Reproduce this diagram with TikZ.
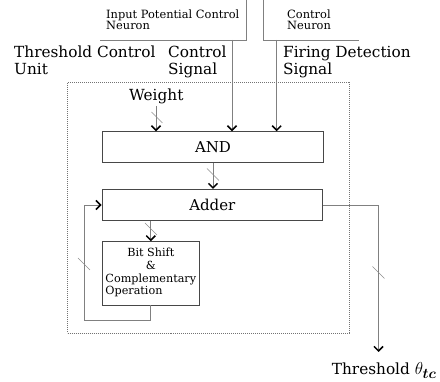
\documentclass[tikz,border=0pt]{standalone}
\usepackage{amsmath}
\usepackage{fontspec}
\setmainfont{DejaVu Serif}
\usetikzlibrary{arrows.meta,calc}
\begin{document}
\begin{tikzpicture}[x=1pt,y=-1pt,
  wire/.style={draw=black!50, line width=0.8pt},
  arr/.style={wire, -{Straight Barb[length=4.5pt,width=9pt,line width=1.5pt,color=black]}},
  box/.style={draw=black!72, line width=0.8pt, fill=white, inner sep=0pt},
  tick/.style={draw=black!45, line width=0.5pt},
  bigtxt/.style={font=\fontsize{15.3}{17}\selectfont, inner sep=0pt, align=left},
  smalltxt/.style={font=\fontsize{11.4}{11.6}\selectfont, inner sep=0pt, align=left},
  frame/.style={draw=black!55, line width=0.6pt, dash pattern=on 0.8pt off 1.2pt, inner sep=0pt}
]
\useasboundingbox (0,0) rectangle (440,382);

% dotted unit frame
\node[frame, minimum width=282pt, minimum height=251pt] (unit) at (208.5,207.5) {};

% boxes
\node[box, minimum width=220.6pt, minimum height=31pt, font=\fontsize{15}{17}\selectfont] (and) at (213,147.2) {AND};
\node[box, minimum width=220.7pt, minimum height=31.4pt, font=\fontsize{15}{17}\selectfont] (adder) at (212.3,205) {Adder};
\node[box, minimum width=97pt, minimum height=63.3pt, font=\fontsize{11.2}{12.6}\selectfont] (bit) at (150.8,273.3)
  {\begin{tabular}{@{}l@{}}\multicolumn{1}{@{}c@{}}{Bit Shift}\\ \multicolumn{1}{@{}c@{}}{\&}\\ Complementary\\ Operation\end{tabular}};

% labels (base anchor = baseline of last line)
\node[smalltxt, anchor=base west] (ipc) at (106,29.8) {Input Potential Control\\Neuron};
\node[smalltxt, anchor=base west] (cn) at (287,29.8) {Control\\Neuron};
\node[bigtxt, anchor=base west] (tcu) at (14,75) {Threshold Control\\Unit};
\node[bigtxt, anchor=base west] (cs) at (168,75) {Control\\Signal};
\node[bigtxt, anchor=base west] (fds) at (283,75) {Firing Detection\\Signal};
\node[bigtxt, anchor=base west] (weight) at (129,101) {Weight};
\node[bigtxt, anchor=base west] (thr) at (331.7,375) {Threshold {\fontsize{19}{19}\selectfont$\theta_{\boldsymbol{tc}}$}};

% neuron brackets
\coordinate (ipcL) at (100,40);
\coordinate (ipcC) at (246.7,40);
\coordinate (ipcT) at (246.7,0);
\coordinate (cnT) at (263,0);
\coordinate (cnC) at (263,40);
\coordinate (cnR) at (359,40);
\draw[wire] (ipcL) -- (ipcC) -- (ipcT);
\draw[wire] (cnT) -- (cnC) -- (cnR);

% input arrows
\coordinate (csS) at (232,40);
\coordinate (fdS) at (276.7,40);
\coordinate (wS) at (156,106);
\draw[arr] (csS) -- (csS |- and.north);
\draw[arr] (fdS) -- (fdS |- and.north);
\draw[arr] (wS) -- (wS |- and.north);
\coordinate (t1) at (157,117.5);
\draw[tick] ($(t1)+(-5.5,-5.5)$) -- ++(11,11);

% AND -> Adder
\draw[arr] (and.south -| 213,0) -- (adder.north -| 213,0);
\coordinate (t2) at (213,174.5);
\draw[tick] ($(t2)+(-6,-6)$) -- ++(12,12);

% Adder -> Bit shift
\draw[arr] (bit.north |- adder.south) -- (bit.north);
\coordinate (t3) at (151,229);
\draw[tick] ($(t3)+(-6,-6)$) -- ++(12,12);

% feedback
\coordinate (fbB) at (150.8,320);
\coordinate (fbL) at (84,320);
\draw[arr] (bit.south) -- (fbB) -- (fbL) -- (fbL |- adder.west) -- (adder.west);
\coordinate (t4) at (84,264);
\draw[tick] ($(t4)+(-6,-6)$) -- ++(12,12);

% output
\coordinate (outC) at (378.5,205);
\coordinate (outE) at (378.5,352);
\draw[arr] (adder.east) -- (outC) -- (outE);
\coordinate (t5) at (378.5,272.5);
\draw[tick] ($(t5)+(-6,-6)$) -- ++(12,12);
\end{tikzpicture}
\end{document}
